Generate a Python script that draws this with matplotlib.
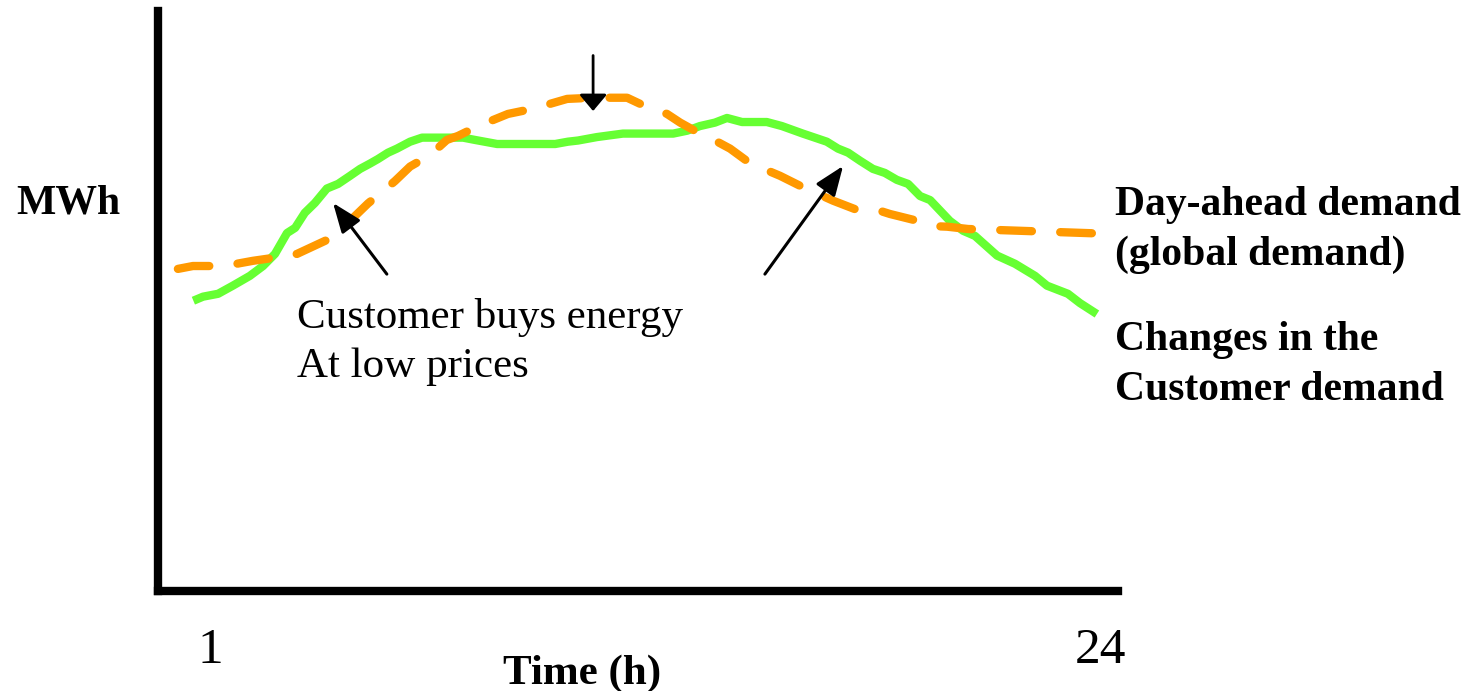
import matplotlib
matplotlib.use('Agg')
import matplotlib.pyplot as plt

plt.rcParams['font.family'] = ['Liberation Serif', 'DejaVu Serif']

# customer demand (green), hour vs MWh (relative units)
green_h = [0.57, 0.82, 1.21, 1.59, 2.03, 2.37, 2.68, 2.99, 3.20, 3.45, 3.71, 4.02, 4.31, 4.62,
           4.88, 5.13, 5.34, 5.60, 5.83, 6.17, 6.48, 6.87, 7.54, 7.85, 8.42, 9.92, 10.25, 10.51,
           11.00, 11.67, 12.97, 13.33, 13.66, 14.05, 14.36, 14.75, 15.39, 15.78, 16.32, 16.94,
           17.23, 17.49, 17.80, 18.13, 18.44, 18.75, 19.04, 19.35, 19.61, 20.12, 20.46, 20.77,
           21.34, 21.80, 22.32, 22.63, 23.17, 23.48, 23.92]
green_v = [50.2, 50.9, 51.4, 52.8, 54.5, 56.2, 58.3, 61.9, 62.8, 65.4, 67.1, 69.6, 70.4, 71.8,
           73.0, 73.9, 74.7, 75.8, 76.5, 77.7, 78.4, 78.4, 78.4, 78.0, 77.3, 77.3, 77.7, 77.9,
           78.5, 79.1, 79.1, 79.6, 80.4, 81.0, 81.8, 81.1, 81.1, 80.4, 79.1, 77.7,
           76.5, 75.8, 74.4, 73.0, 72.3, 71.1, 70.4, 68.3, 67.6, 64.0, 62.3, 61.4,
           58.0, 56.6, 54.5, 52.8, 51.4, 49.8, 47.9]

# day-ahead demand (orange dashed)
orange_h = [0.17, 0.56, 1.13, 1.70, 2.11, 2.63, 3.25, 4.02, 4.54, 5.08, 5.57, 5.78, 6.17, 6.69,
            7.12, 7.41, 7.93, 8.70, 9.35, 10.23, 10.90, 11.78, 12.32, 12.81, 13.15, 13.66, 14.05,
            14.44, 14.95, 15.73, 16.30, 17.10, 17.72, 18.24, 18.57, 19.17, 19.68, 20.05, 20.59, 24.08]
orange_v = [55.7, 56.2, 56.2, 56.6, 57.1, 57.6, 58.3, 60.7, 63.5, 67.0, 69.7, 70.9, 73.4, 75.4,
            78.0, 78.7, 80.4, 82.5, 83.4, 85.1, 85.3, 85.3, 83.6, 82.5, 81.0, 79.1, 77.9,
            76.5, 74.0, 71.8, 69.9, 67.5, 65.9, 65.9, 65.2, 64.2, 63.1, 63.0, 62.6, 61.8]

# arrows: (tail, tip)
arrow_down = ((10.90, 92.6), (10.90, 83.0))
arrow_left = ((5.57, 54.8), (4.18, 67.1))
arrow_right = ((15.34, 54.8), (17.36, 73.5))

hour_ticks = [1, 24]
hour_labels = ['1', '24']

W, H = 1474, 691
fig = plt.figure(figsize=(W / 100, H / 100), dpi=100)
ax = fig.add_axes([157.5 / W, (H - 591) / H, (1118 - 157.5) / W, (591 - 11) / H])

ax.plot(green_h, green_v, color='#66FF33', lw=6.0, solid_capstyle='butt', solid_joinstyle='round')
ax.plot(orange_h, orange_v, color='#FF9900', lw=6.0, dashes=(3.8, 3.4),
        dash_capstyle='round', dash_joinstyle='round')

ax.annotate('', xy=arrow_down[1], xytext=arrow_down[0],
            arrowprops=dict(arrowstyle='-|>,head_length=0.5,head_width=0.42', color='black',
                            lw=2.0, mutation_scale=20, shrinkA=0, shrinkB=0))
for tail, tip in [arrow_left, arrow_right]:
    ax.annotate('', xy=tip, xytext=tail,
                arrowprops=dict(arrowstyle='-|>,head_length=0.9,head_width=0.35', color='black',
                                lw=2.2, mutation_scale=20, shrinkA=0, shrinkB=0))

ax.set_xlim(-0.357, 24.465)
ax.set_ylim(0, 100.3)
ax.spines['top'].set_visible(False)
ax.spines['right'].set_visible(False)
ax.spines['left'].set_linewidth(6.0)
ax.spines['bottom'].set_linewidth(6.0)
ax.set_yticks([])
ax.set_xticks(hour_ticks)
ax.set_xticklabels(hour_labels, fontsize=37)
ax.tick_params(axis='x', length=0, pad=26)

def ftext(px, py, s, **kw):
    fig.text(px / W, 1 - py / H, s, va='baseline', **kw)

ftext(68, 214, 'MWh', ha='center', fontsize=30, fontweight='bold')
ftext(582, 684, 'Time (h)', ha='center', fontsize=31, fontweight='bold')
ftext(297, 328, 'Customer buys energy', ha='left', fontsize=31)
ftext(297, 377, 'At low prices', ha='left', fontsize=31)
ftext(1115, 215, 'Day-ahead demand', ha='left', fontsize=30, fontweight='bold')
ftext(1115, 265, '(global demand)', ha='left', fontsize=30, fontweight='bold')
ftext(1115, 350, 'Changes in the', ha='left', fontsize=30, fontweight='bold')
ftext(1115, 400, 'Customer demand', ha='left', fontsize=30, fontweight='bold')

fig.savefig('out.png', dpi=100)
